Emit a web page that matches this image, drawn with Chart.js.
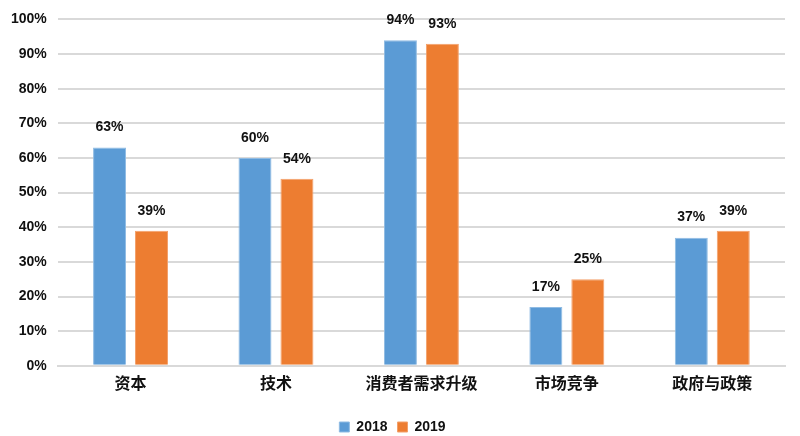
<!DOCTYPE html>
<html><head><meta charset="utf-8">
<script src="https://cdn.jsdelivr.net/npm/chart.js@4"></script>
<style>html,body{margin:0;padding:0;background:#fff}#wrap{width:800px;height:436px}</style>
</head><body><div id="wrap"><canvas id="c" width="800" height="436"></canvas></div>
<script>
const categories = ['资本', '技术', '消费者需求升级', '市场竞争', '政府与政策'];
const series2018 = [63, 60, 94, 17, 37];
const series2019 = [39, 54, 93, 25, 39];
const yTicks = [0, 10, 20, 30, 40, 50, 60, 70, 80, 90, 100];

const labelPlugin = {
  id: 'barLabels',
  afterDatasetsDraw(chart) {
    const ctx = chart.ctx;
    ctx.save();
    ctx.font = 'bold 14px "Liberation Sans"';
    ctx.fillStyle = '#111';
    ctx.textAlign = 'center';
    ctx.textBaseline = 'bottom';
    chart.data.datasets.forEach((ds, i) => {
      chart.getDatasetMeta(i).data.forEach((bar, j) => {
        ctx.fillText(ds.data[j] + '%', bar.x, bar.y - 13);
      });
    });
    ctx.restore();
  }
};

new Chart(document.getElementById('c'), {
  type: 'bar',
  data: {
    labels: categories,
    datasets: [
      { label: '2018', data: series2018, backgroundColor: '#5B9BD5', borderColor: '#8fbbe3', borderWidth: 1 },
      { label: '2019', data: series2019, backgroundColor: '#ED7D31', borderColor: '#f3a06a', borderWidth: 1 }
    ]
  },
  options: {
    responsive: false,
    animation: false,
    devicePixelRatio: 1,
    layout: { padding: { top: 14, right: 15, left: 0, bottom: -8 } },
    datasets: { bar: { categoryPercentage: 0.577, barPercentage: 0.786 } },
    scales: {
      x: {
        grid: { display: false },
        border: { color: '#d9d9d9', width: 2 },
        ticks: { color: '#111', font: { family: '"Noto Sans CJK SC"', size: 16, weight: 'bold' }, padding: 0 },
        afterFit(axis) { axis.height += 17; }
      },
      y: {
        min: 0, max: 100,
        afterBuildTicks(axis) { axis.ticks = yTicks.map(v => ({ value: v })); },
        grid: { color: '#d9d9d9', lineWidth: 2, drawTicks: false },
        border: { display: false },
        ticks: { color: '#111', font: { family: '"Liberation Sans"', size: 14, weight: 'bold' }, padding: 11, callback: v => v + '%' }
      }
    },
    plugins: {
      legend: {
        position: 'bottom',
        labels: { color: '#111', boxWidth: 10, boxHeight: 10, padding: 10, font: { family: '"Liberation Sans"', size: 14, weight: 'bold' } }
      },
      tooltip: { enabled: false }
    }
  },
  plugins: [labelPlugin]
});
</script></body></html>
